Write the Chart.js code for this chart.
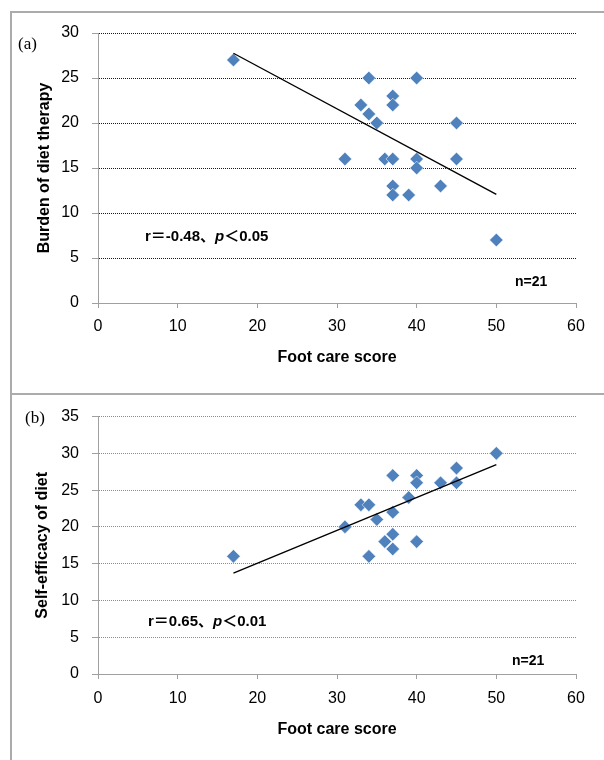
<!DOCTYPE html>
<html>
<head>
<meta charset="utf-8">
<script src="https://cdn.jsdelivr.net/npm/chart.js@4.4.0/dist/chart.umd.min.js"></script>
<style>
  body { margin: 0; background: #fff; width: 604px; height: 760px; overflow: hidden; position: relative; }
  .panel { position: absolute; left: 10px; width: 620px; border: 2px solid #ababab; box-sizing: border-box; }
  #panelA { top: 11px; height: 384px; }
  #panelB { top: 393px; height: 420px; }
  canvas { position: absolute; left: 0; }
  #chartA { top: 0; }
  #chartB { top: 394px; }
  .note { position: absolute; font-weight: bold; font-size: 15px; line-height: 1; white-space: nowrap;
          font-family: "Liberation Sans", "Noto Sans CJK JP", sans-serif; }
  .n { font-size: 14px; }
  .tag { position: absolute; font-family: "Liberation Serif", "DejaVu Serif", serif; font-size: 17px; line-height: 1; }
</style>
</head>
<body>
<div class="panel" id="panelA"></div>
<div class="panel" id="panelB"></div>
<canvas id="chartA" width="604" height="380"></canvas>
<canvas id="chartB" width="604" height="366"></canvas>

<div class="tag" style="left:18px;top:35px;">(a)</div>
<div class="note" style="left:145px;top:228px;">r＝-0.48、<i>p</i>＜0.05</div>
<div class="note n" style="left:515px;top:274px;">n=21</div>

<div class="tag" style="left:25px;top:409px;">(b)</div>
<div class="note" style="left:148px;top:613px;">r＝0.65、<i>p</i>＜0.01</div>
<div class="note n" style="left:512px;top:653px;">n=21</div>

<script>
/* datos */
var xTitle = "Foot care score";

/* (a) */
var yTitleA = "Burden of diet therapy";
var footA   = [17, 31, 33, 34, 34, 35, 36, 37, 37, 37, 37, 37, 39, 40, 40, 40, 43, 45, 45, 50];
var burdenA = [27, 16, 22, 25, 21, 20, 16, 23, 22, 16, 13, 12, 12, 25, 16, 15, 13, 20, 16, 7];
var trendXA = [17, 50];
var trendYA = [27.75, 12.08];
var yMaxA = 30;

/* (b) */
var yTitleB = "Self-efficacy of diet";
var footB     = [17, 31, 33, 34, 34, 35, 36, 37, 37, 37, 37, 39, 40, 40, 40, 43, 45, 45, 50];
var efficacyB = [16, 20, 23, 23, 16, 21, 18, 27, 22, 19, 17, 24, 27, 26, 18, 26, 28, 26, 30];
var trendXB = [17, 50];
var trendYB = [13.71, 28.46];
var yMaxB = 35;

var xMax = 60;
var xStep = 10;
var yStep = 5;

function pares(xs, ys) {
  var out = [];
  for (let i = 0; i < xs.length; i++) {
    out.push({ x: xs[i], y: ys[i] });
  }
  return out;
}

var fuenteTicks = { size: 16, family: "Liberation Sans" };
var fuenteTitulo = { size: 16, family: "Liberation Sans", weight: "bold" };

function graficoDispersion(id, xs, ys, tx, ty, yMax, yTitle, o) {
  var ctx = document.getElementById(id).getContext("2d");
  return new Chart(ctx, {
    type: "scatter",
    data: {
      datasets: [{
        // linea de tendencia (encima de los puntos)
        data: pares(tx, ty),
        showLine: true,
        borderColor: "#000",
        borderWidth: 1.4,
        pointRadius: 0,
        fill: false
      }, {
        data: pares(xs, ys),
        pointStyle: "rectRot",
        pointRadius: 6.8,
        backgroundColor: "#4f81bd",
        borderColor: "rgba(255,255,255,0.7)",
        borderWidth: 0.8
      }]
    },
    options: {
      responsive: false,
      animation: false,
      events: [],
      layout: { padding: { top: o.top, right: 28, left: 0, bottom: 0 } },
      plugins: { legend: { display: false }, tooltip: { enabled: false } },
      scales: {
        x: {
          type: "linear",
          min: 0,
          max: xMax,
          afterFit: function(s) { s.height = o.xHeight; },
          ticks: { stepSize: xStep, color: "#000", padding: o.xPad, font: fuenteTicks, maxRotation: 0 },
          grid: { drawOnChartArea: false, drawTicks: true, tickLength: 5, tickColor: "#a0a0a0", tickWidth: 1 },
          border: { display: true, color: "#a0a0a0", width: 1 },
          title: { display: true, text: xTitle, color: "#000", font: fuenteTitulo, padding: { top: 0, bottom: o.xTitlePad } }
        },
        y: {
          type: "linear",
          min: 0,
          max: yMax,
          afterFit: function(s) { s.width = 98; },
          ticks: { stepSize: yStep, color: "#000", padding: 13, font: fuenteTicks },
          grid: {
            color: function(c) { return c.tick && c.tick.value === 0 ? "rgba(0,0,0,0)" : o.gridColor; },
            lineWidth: 1,
            drawTicks: true,
            tickLength: 6,
            tickColor: "#a0a0a0",
            tickWidth: 1
          },
          border: { display: true, color: "#a0a0a0", width: 1, dash: [1, 1] },
          title: { display: true, text: yTitle, color: "#000", font: fuenteTitulo, padding: { top: o.yTitlePad, bottom: 0 } }
        }
      }
    }
  });
}

graficoDispersion("chartA", footA, burdenA, trendXA, trendYA, yMaxA, yTitleA,
  { top: 33, xHeight: 77, xPad: 9, xTitlePad: 13, yTitlePad: 35, gridColor: "#1a1a1a" });

graficoDispersion("chartB", footB, efficacyB, trendXB, trendYB, yMaxB, yTitleB,
  { top: 21, xHeight: 86, xPad: 10, xTitlePad: 21, yTitlePad: 33, gridColor: "#8c8c8c" });
</script>
</body>
</html>
